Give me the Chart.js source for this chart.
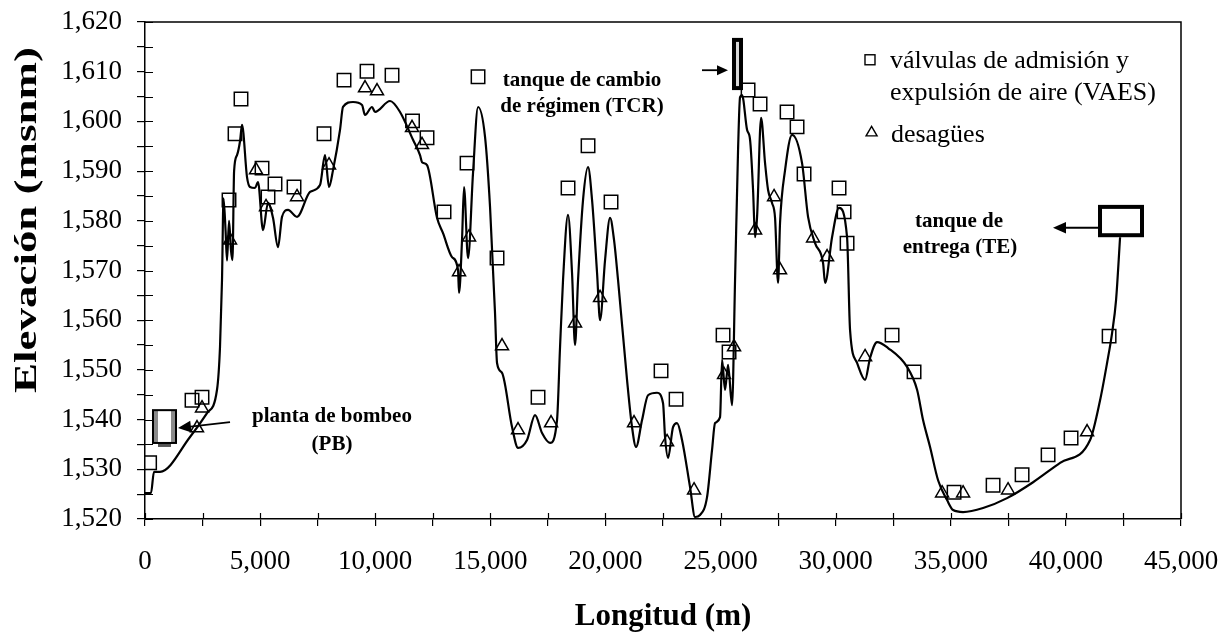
<!DOCTYPE html>
<html>
<head>
<meta charset="utf-8">
<script src="https://cdn.jsdelivr.net/npm/chart.js@4.4.1/dist/chart.umd.min.js"></script>
<style>
  html, body { margin: 0; padding: 0; background: #fff; }
</style>
</head>
<body>
<canvas id="perfil" width="1224" height="632"></canvas>
<script>
// Perfil de la conducción: longitud (m) contra elevación (msnm),
// con la ubicación de válvulas de aire (VAES) y desagües.

const perfilX = [0, 260, 390, 652, 1955, 2693, 3128, 3258, 3345, 3410, 3500, 3562, 3650, 3736, 3800, 3870,
  3997, 4127, 4214, 4431, 4561, 4778, 4909, 5126, 5343, 5560, 5778, 5951, 6212, 6603, 7168, 7602, 7819,
  7993, 8167, 8471, 8601, 9036, 9426, 9557, 9861, 9991, 10643, 11077, 11642, 11946, 12033, 12250, 12684,
  12945, 13336, 13597, 13640, 13770, 13857, 14031, 14248, 14466, 14770, 14987, 15204, 15291, 15508, 15943,
  16203, 16594, 16942, 17246, 17593, 17897, 18028, 18158, 18375, 18549, 18679, 18810, 19027, 19244, 19418,
  19636, 19766, 19983, 20200, 20374, 20547, 20938, 21155, 21329, 21590, 21850, 22241, 22502, 22589, 22719,
  22936, 23110, 23327, 23675, 23892, 24109, 24413, 24630, 24761, 24978, 25065, 25195, 25325, 25499, 25630,
  25760, 25847, 25934, 26151, 26282, 26412, 26499, 26586, 26760, 26933, 27064, 27237, 27367, 27498, 27584,
  27802, 28106, 28540, 28801, 29105, 29453, 29540, 29843, 30147, 30495, 30625, 30929, 31277, 31494, 31798,
  32276, 33101, 33536, 33796, 34100, 34448, 34839, 35100, 35534, 36403, 37445, 38575, 39748, 41051, 41485,
  41789, 42006, 42180, 42354];
const perfilY = [1525.2, 1525.2, 1529.5, 1529.5, 1536.5, 1541.3, 1546.0, 1554.6, 1568.1, 1584.5, 1578.0, 1572.0,
  1580.0, 1574.0, 1572.1, 1590.0, 1593.2, 1596.0, 1599.3, 1588.8, 1586.8, 1586.6, 1587.8, 1578.1, 1583.6,
  1580.6, 1574.7, 1580.8, 1582.2, 1580.8, 1585.8, 1587.2, 1593.2, 1586.8, 1590.2, 1598.3, 1602.9, 1603.9,
  1603.3, 1601.3, 1602.9, 1601.9, 1604.1, 1601.9, 1596.3, 1593.2, 1591.8, 1591.2, 1580.6, 1577.5, 1572.7,
  1570.1, 1565.5, 1576.1, 1586.8, 1572.5, 1589.6, 1602.9, 1596.9, 1582.8, 1561.4, 1551.4, 1549.4, 1538.5,
  1534.3, 1535.9, 1540.9, 1537.3, 1535.3, 1539.9, 1554.6, 1568.1, 1581.2, 1569.5, 1555.0, 1568.1, 1584.2,
  1590.8, 1584.2, 1569.5, 1560.0, 1572.1, 1580.6, 1576.1, 1568.1, 1548.0, 1538.5, 1534.5, 1539.9, 1544.9,
  1545.4, 1543.3, 1536.5, 1532.3, 1538.5, 1539.3, 1535.9, 1526.4, 1520.4, 1520.8, 1524.4, 1533.9, 1539.3,
  1540.5, 1552.0, 1546.0, 1551.0, 1542.9, 1568.1, 1594.2, 1604.9, 1605.3, 1598.3, 1596.3, 1586.2, 1576.7,
  1580.8, 1600.7, 1591.6, 1586.2, 1583.6, 1580.6, 1567.5, 1579.6, 1590.2, 1597.3, 1591.6, 1580.8, 1575.5,
  1571.5, 1567.5, 1576.7, 1582.6, 1576.7, 1558.0, 1551.4, 1548.0, 1552.4, 1555.6, 1554.4, 1550.6, 1546.0,
  1539.9, 1534.5, 1527.8, 1523.8, 1521.8, 1521.4, 1522.2, 1524.2, 1527.4, 1531.3, 1535.9, 1543.9, 1551.4,
  1557.4, 1564.1, 1576.7];

// válvulas de admisión y expulsión de aire
const vaesX = [200, 2042, 2476, 3649, 3910, 4170, 5083, 5343, 5647, 6473, 7776, 8645, 9644, 10730, 11620, 12250,
  12989, 13988, 14466, 15291, 17072, 18375, 19244, 20243, 22415, 23067, 25108, 25369, 26195, 26716, 27889,
  28323, 28627, 30147, 30365, 30495, 32450, 33405, 35143, 36837, 38097, 39226, 40225, 41877];
const vaesY = [1531.3, 1543.9, 1544.5, 1584.2, 1597.5, 1604.5, 1590.6, 1584.8, 1587.4, 1586.8, 1597.5, 1608.3,
  1610.1, 1609.3, 1600.1, 1596.7, 1581.8, 1591.6, 1609.0, 1572.5, 1544.5, 1586.6, 1595.1, 1583.8, 1549.8,
  1544.1, 1557.0, 1553.6, 1606.3, 1603.5, 1601.9, 1598.9, 1589.4, 1586.6, 1581.8, 1575.5, 1557.0, 1549.6,
  1525.4, 1526.8, 1528.9, 1532.9, 1536.3, 1556.8];

// desagües
const desagueX = [2259, 2476, 3692, 4822, 5256, 6603, 7993, 9557, 10078, 11599, 12033, 13640, 14075, 15508, 16203,
  17637, 18679, 19766, 21242, 22676, 23849, 25152, 25586, 26499, 27324, 27584, 29018, 29627, 31277, 34622,
  35534, 37488, 40920];
const desagueY = [1538.3, 1542.3, 1576.1, 1590.2, 1582.8, 1584.8, 1591.2, 1606.7, 1606.1, 1598.7, 1595.3, 1569.7,
  1576.7, 1554.8, 1537.9, 1539.3, 1559.4, 1564.5, 1539.3, 1535.5, 1525.8, 1549.0, 1554.6, 1578.1, 1584.8,
  1570.1, 1576.5, 1572.7, 1552.6, 1525.2, 1525.2, 1525.8, 1537.5];

const xTickLabels = [0, 5000, 10000, 15000, 20000, 25000, 30000, 35000, 40000, 45000];
const yTickLabels = [1520, 1530, 1540, 1550, 1560, 1570, 1580, 1590, 1600, 1610, 1620];

const SERIF = "'Liberation Serif', 'Times New Roman', serif";
const pts = (xs, ys) => xs.map((x, i) => ({ x, y: ys[i] }));
const fmt = (v) => v.toLocaleString('en-US');

function arrow(ctx, x1, y1, x2, y2, head) {
    const ang = Math.atan2(y2 - y1, x2 - x1);
    ctx.beginPath();
    ctx.moveTo(x1, y1);
    ctx.lineTo(x2 - Math.cos(ang) * head * 0.8, y2 - Math.sin(ang) * head * 0.8);
    ctx.stroke();
    ctx.beginPath();
    ctx.moveTo(x2, y2);
    ctx.lineTo(x2 - Math.cos(ang) * head + Math.sin(ang) * head * 0.45, y2 - Math.sin(ang) * head - Math.cos(ang) * head * 0.45);
    ctx.lineTo(x2 - Math.cos(ang) * head - Math.sin(ang) * head * 0.45, y2 - Math.sin(ang) * head + Math.cos(ang) * head * 0.45);
    ctx.closePath();
    ctx.fill();
}

// Marco del área de trazado y marcas de división hacia adentro
const marco = {
    id: 'marco',
    afterDraw(chart) {
        const { ctx, chartArea: a, scales: { x, y } } = chart;
        ctx.save();
        ctx.strokeStyle = '#000';
        ctx.lineWidth = 1.5;
        ctx.beginPath();
        ctx.moveTo(a.left, a.top);
        ctx.lineTo(a.right, a.top);
        ctx.lineTo(a.right, a.bottom);
        ctx.stroke();
        ctx.lineWidth = 1.2;
        ctx.beginPath();
        y.ticks.forEach((t) => {
            const py = Math.round(y.getPixelForValue(t.value)) + 0.5;
            ctx.moveTo(a.left, py);
            ctx.lineTo(a.left + 8, py);
        });
        x.ticks.forEach((t) => {
            const px = Math.round(x.getPixelForValue(t.value)) + 0.5;
            ctx.moveTo(px, a.bottom);
            ctx.lineTo(px, a.bottom - 6);
        });
        ctx.stroke();
        ctx.restore();
    },
};

// Títulos de ejes, leyenda y señalamiento de tanques y planta de bombeo
const rotulos = {
    id: 'rotulos',
    afterDraw(chart) {
        const { ctx, chartArea: a, scales: { x, y } } = chart;
        const X = (v) => x.getPixelForValue(v);
        const Y = (v) => y.getPixelForValue(v);
        ctx.save();
        ctx.fillStyle = '#000';
        ctx.strokeStyle = '#000';

        // ejes
        ctx.font = `bold 31px ${SERIF}`;
        ctx.textAlign = 'center';
        ctx.textBaseline = 'alphabetic';
        ctx.fillText('Longitud (m)', (a.left + a.right) / 2, 625);
        ctx.save();
        ctx.translate(36, 220);
        ctx.rotate(-Math.PI / 2);
        ctx.scale(1.45, 1);
        ctx.fillText('Elevación (msnm)', 0, 0);
        ctx.restore();

        // leyenda
        ctx.lineWidth = 1.4;
        ctx.strokeRect(X(31491) - 5, Y(1612.4) - 5, 10, 10);
        const tx = X(31560), ty = Y(1597.9);
        ctx.beginPath();
        ctx.moveTo(tx, ty - 5.5);
        ctx.lineTo(tx + 5.5, ty + 4);
        ctx.lineTo(tx - 5.5, ty + 4);
        ctx.closePath();
        ctx.stroke();
        ctx.font = `26px ${SERIF}`;
        ctx.textAlign = 'left';
        ctx.fillText('válvulas de admisión y', X(32360), Y(1610.7));
        ctx.fillText('expulsión de aire (VAES)', X(32360), Y(1604.3));
        ctx.fillText('desagües', X(32400), Y(1595.9));

        // planta de bombeo
        const pl = X(347), pr = X(1347), pt = Y(1541.9), pb = Y(1535.3);
        ctx.fillStyle = '#8a8a8a';
        ctx.fillRect(pl, pt, 5, pb - pt);
        ctx.fillRect(pr - 5, pt, 5, pb - pt);
        ctx.fillStyle = '#555';
        ctx.fillRect(pl + 5, pb, pr - pl - 10, 4);
        ctx.fillStyle = '#000';
        ctx.lineWidth = 2;
        ctx.strokeRect(pl, pt, pr - pl, pb - pt);
        ctx.lineWidth = 1.8;
        arrow(ctx, X(3692), Y(1539.5), X(1433), Y(1538.3), 13);

        // tanque de cambio de régimen
        const cl = X(25497), cr = X(25975), ct = Y(1616.8), cb = Y(1606.3);
        ctx.fillRect(cl, ct, cr - cl, cb - ct);
        ctx.fillStyle = '#d8d8d8';
        ctx.fillRect(cl + 4, ct + 4, 3, cb - ct - 8);
        ctx.fillStyle = '#000';
        arrow(ctx, X(24194), Y(1610.3), X(25323), Y(1610.3), 11);

        // tanque de entrega
        const el = X(41482), er = X(43306), et = Y(1582.8), eb = Y(1577.1);
        ctx.lineWidth = 4;
        ctx.strokeRect(el, et, er - el, eb - et);
        ctx.lineWidth = 1.8;
        arrow(ctx, el - 2, Y(1578.6), X(39440), Y(1578.6), 13);

        ctx.font = `bold 21px ${SERIF}`;
        ctx.textAlign = 'center';
        ctx.fillText('planta de bombeo', X(8123), Y(1539.5));
        ctx.fillText('(PB)', X(8123), Y(1533.9));
        ctx.fillText('tanque de cambio', X(18981), Y(1607.1));
        ctx.fillText('de régimen (TCR)', X(18981), Y(1601.9));
        ctx.fillText('tanque de', X(35357), Y(1578.8));
        ctx.fillText('entrega (TE)', X(35400), Y(1573.5));
        ctx.restore();
    },
};

new Chart(document.getElementById('perfil'), {
    type: 'scatter',
    data: {
        datasets: [
            {
                label: 'válvulas de admisión y expulsión de aire (VAES)',
                data: pts(vaesX, vaesY),
                pointStyle: 'rect',
                pointRadius: 9.5,
                borderColor: '#000',
                borderWidth: 1.5,
                backgroundColor: 'rgba(255,255,255,0)',
                order: 1,
            },
            {
                label: 'desagües',
                data: pts(desagueX, desagueY),
                pointStyle: 'triangle',
                pointRadius: 7.5,
                borderColor: '#000',
                borderWidth: 1.5,
                backgroundColor: 'rgba(255,255,255,0)',
                order: 1,
            },
            {
                label: 'perfil',
                data: pts(perfilX, perfilY),
                showLine: true,
                pointRadius: 0,
                borderColor: '#000',
                borderWidth: 2.2,
                cubicInterpolationMode: 'monotone',
                order: 2,
            },
        ],
    },
    options: {
        responsive: false,
        animation: false,
        devicePixelRatio: 1,
        layout: { autoPadding: false, padding: { top: 22, right: 43, left: 0, bottom: 0 } },
        plugins: { legend: { display: false }, tooltip: { enabled: false } },
        scales: {
            x: {
                type: 'linear',
                min: 0,
                max: 45000,
                // alto fijo del eje y sin relleno extra por las etiquetas de los extremos
                afterFit: (s) => { s.height = 113; s.paddingLeft = 0; s.paddingRight = 0; },
                ticks: {
                    stepSize: 2500,
                    autoSkip: false,
                    maxRotation: 0,
                    padding: 20,
                    color: '#000',
                    font: { family: SERIF, size: 27 },
                    callback: (v) => (xTickLabels.includes(v) ? fmt(v) : ''),
                },
                grid: { drawOnChartArea: false, tickLength: 7, color: '#000', lineWidth: 1.2 },
                border: { color: '#000', width: 1.5 },
            },
            y: {
                type: 'linear',
                min: 1520,
                max: 1620,
                afterFit: (s) => { s.width = 145; s.paddingTop = 0; s.paddingBottom = 0; },
                ticks: {
                    stepSize: 5,
                    autoSkip: false,
                    padding: 15,
                    color: '#000',
                    font: { family: SERIF, size: 27 },
                    callback: (v) => (yTickLabels.includes(v) ? fmt(v) : ''),
                },
                grid: { drawOnChartArea: false, tickLength: 8, color: '#000', lineWidth: 1.2 },
                border: { color: '#000', width: 1.5 },
            },
        },
    },
    plugins: [marco, rotulos],
});
</script>
</body>
</html>
